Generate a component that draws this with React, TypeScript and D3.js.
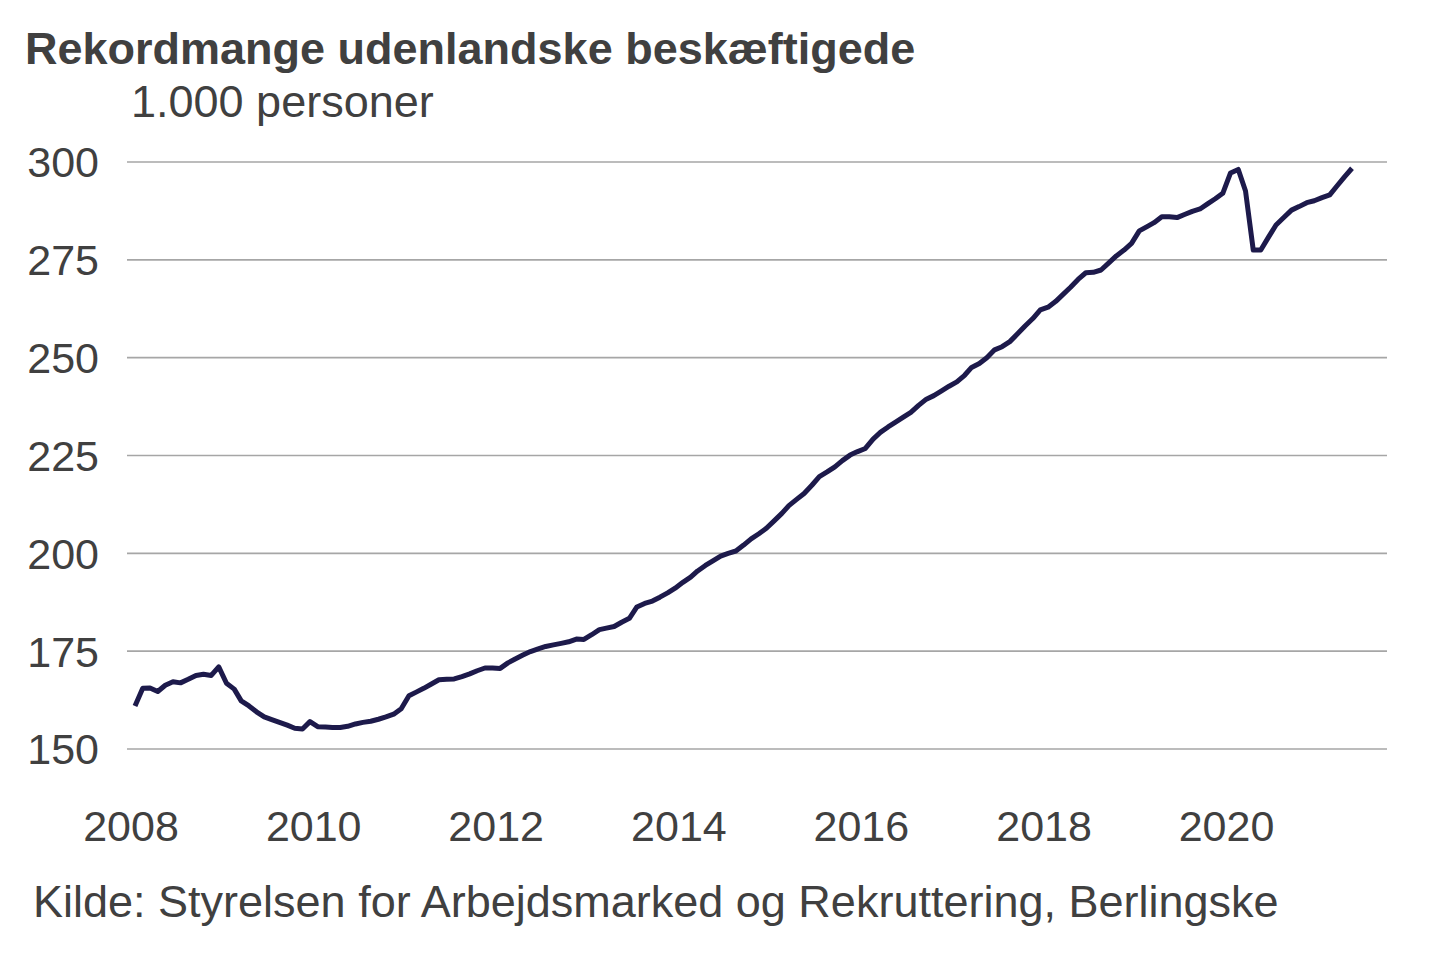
import { useEffect, useRef } from "react";
import * as d3 from "d3";

// monthly values, Jan 2008 - May 2021 (1.000 personer)
const startYear = 2008;
const values = [
  161.0, 165.5, 165.6, 164.7, 166.3, 167.2, 166.9, 167.8, 168.8, 169.1, 168.8, 171.0,
  166.8, 165.3, 162.3, 161.0, 159.5, 158.2, 157.5, 156.8, 156.1, 155.3, 155.1, 157.0,
  155.7, 155.6, 155.5, 155.5, 155.8, 156.4, 156.8, 157.1, 157.6, 158.2, 158.9, 160.3,
  163.6, 164.6, 165.5, 166.6, 167.7, 167.8, 167.9, 168.5, 169.2, 170.0, 170.7, 170.7,
  170.6, 172.0, 173.0, 174.0, 174.9, 175.6, 176.2, 176.6, 177.0, 177.4, 178.1, 178.0,
  179.2, 180.5, 180.9, 181.3, 182.4, 183.4, 186.3, 187.2, 187.8, 188.8, 189.9, 191.1,
  192.6, 193.9, 195.5, 196.9, 198.1, 199.3, 200.0, 200.6, 202.1, 203.7, 205.0, 206.4,
  208.3, 210.2, 212.2, 213.8, 215.3, 217.4, 219.6, 220.8, 222.1, 223.7, 225.1, 226.0,
  226.8, 229.2, 230.9, 232.3, 233.5, 234.8, 236.0, 237.8, 239.4, 240.3, 241.5, 242.7,
  243.8, 245.5, 247.5, 248.5, 250.0, 252.0, 252.8, 254.1, 256.1, 258.1, 260.0, 262.2,
  262.9, 264.4, 266.1, 268.0, 270.0, 271.7, 271.8, 272.4, 274.2, 276.0, 277.5, 279.2,
  282.4, 283.5, 284.5, 286.0, 286.0, 285.8, 286.6, 287.4, 288.0, 289.3, 290.6, 292.0,
  297.2, 298.1, 292.6, 277.5, 277.5, 280.8, 283.9, 285.8, 287.7, 288.6, 289.6, 290.1,
  290.9, 291.6, 293.8, 296.2, 298.4,
];
const yTicks = [150, 175, 200, 225, 250, 275, 300];
const xTickYears = [2008, 2010, 2012, 2014, 2016, 2018, 2020];

const title = "Rekordmange udenlandske beskæftigede";
const unit = "1.000 personer";
const source = "Kilde: Styrelsen for Arbejdsmarked og Rekruttering, Berlingske";

const W = 1440;
const H = 960;
const font = "'Liberation Sans', Arial, sans-serif";
const textColor = "#404040";

export default function App() {
  const svgRef = useRef<SVGSVGElement | null>(null);

  useEffect(() => {
    if (!svgRef.current) return;
    const svg = d3.select(svgRef.current);
    svg.selectAll("*").remove();

    const dates = values.map((_, i) => new Date(startYear, i, 1));

    const x = d3
      .scaleTime()
      .domain([dates[0], dates[dates.length - 1]])
      .range([135, 1352]);

    const y = d3.scaleLinear().domain([150, 300]).range([749, 162]);

    // gridlines
    svg
      .append("g")
      .selectAll("line")
      .data(yTicks)
      .join("line")
      .attr("x1", 127)
      .attr("x2", 1387)
      .attr("y1", (d) => y(d))
      .attr("y2", (d) => y(d))
      .attr("stroke", "#a6a6a6")
      .attr("stroke-width", 1.6);

    // y labels
    svg
      .append("g")
      .selectAll("text")
      .data(yTicks)
      .join("text")
      .attr("x", 99)
      .attr("y", (d) => y(d))
      .attr("dy", "0.36em")
      .attr("text-anchor", "end")
      .attr("font-family", font)
      .attr("font-size", 43)
      .attr("fill", textColor)
      .text((d) => d);

    // x labels
    svg
      .append("g")
      .selectAll("text")
      .data(xTickYears)
      .join("text")
      .attr("x", (d) => x(new Date(d, 0, 1)) - 4)
      .attr("y", 841)
      .attr("text-anchor", "middle")
      .attr("font-family", font)
      .attr("font-size", 43)
      .attr("fill", textColor)
      .text((d) => d);

    const line = d3
      .line<number>()
      .x((_, i) => x(dates[i]))
      .y((d) => y(d));

    svg
      .append("path")
      .datum(values)
      .attr("d", line)
      .attr("fill", "none")
      .attr("stroke", "#1d1a4b")
      .attr("stroke-width", 5)
      .attr("stroke-linejoin", "round");

    svg
      .append("text")
      .attr("x", 25)
      .attr("y", 64)
      .attr("font-family", font)
      .attr("font-weight", "bold")
      .attr("font-size", 45)
      .attr("fill", textColor)
      .text(title);

    svg
      .append("text")
      .attr("x", 131)
      .attr("y", 117)
      .attr("font-family", font)
      .attr("font-size", 45)
      .attr("fill", textColor)
      .text(unit);

    svg
      .append("text")
      .attr("x", 33)
      .attr("y", 917)
      .attr("font-family", font)
      .attr("font-size", 45)
      .attr("fill", textColor)
      .text(source);
  }, []);

  return (
    <div style={{ position: "absolute", left: 0, top: 0, background: "#fff" }}>
      <svg ref={svgRef} width={W} height={H} style={{ display: "block" }} />
    </div>
  );
}
